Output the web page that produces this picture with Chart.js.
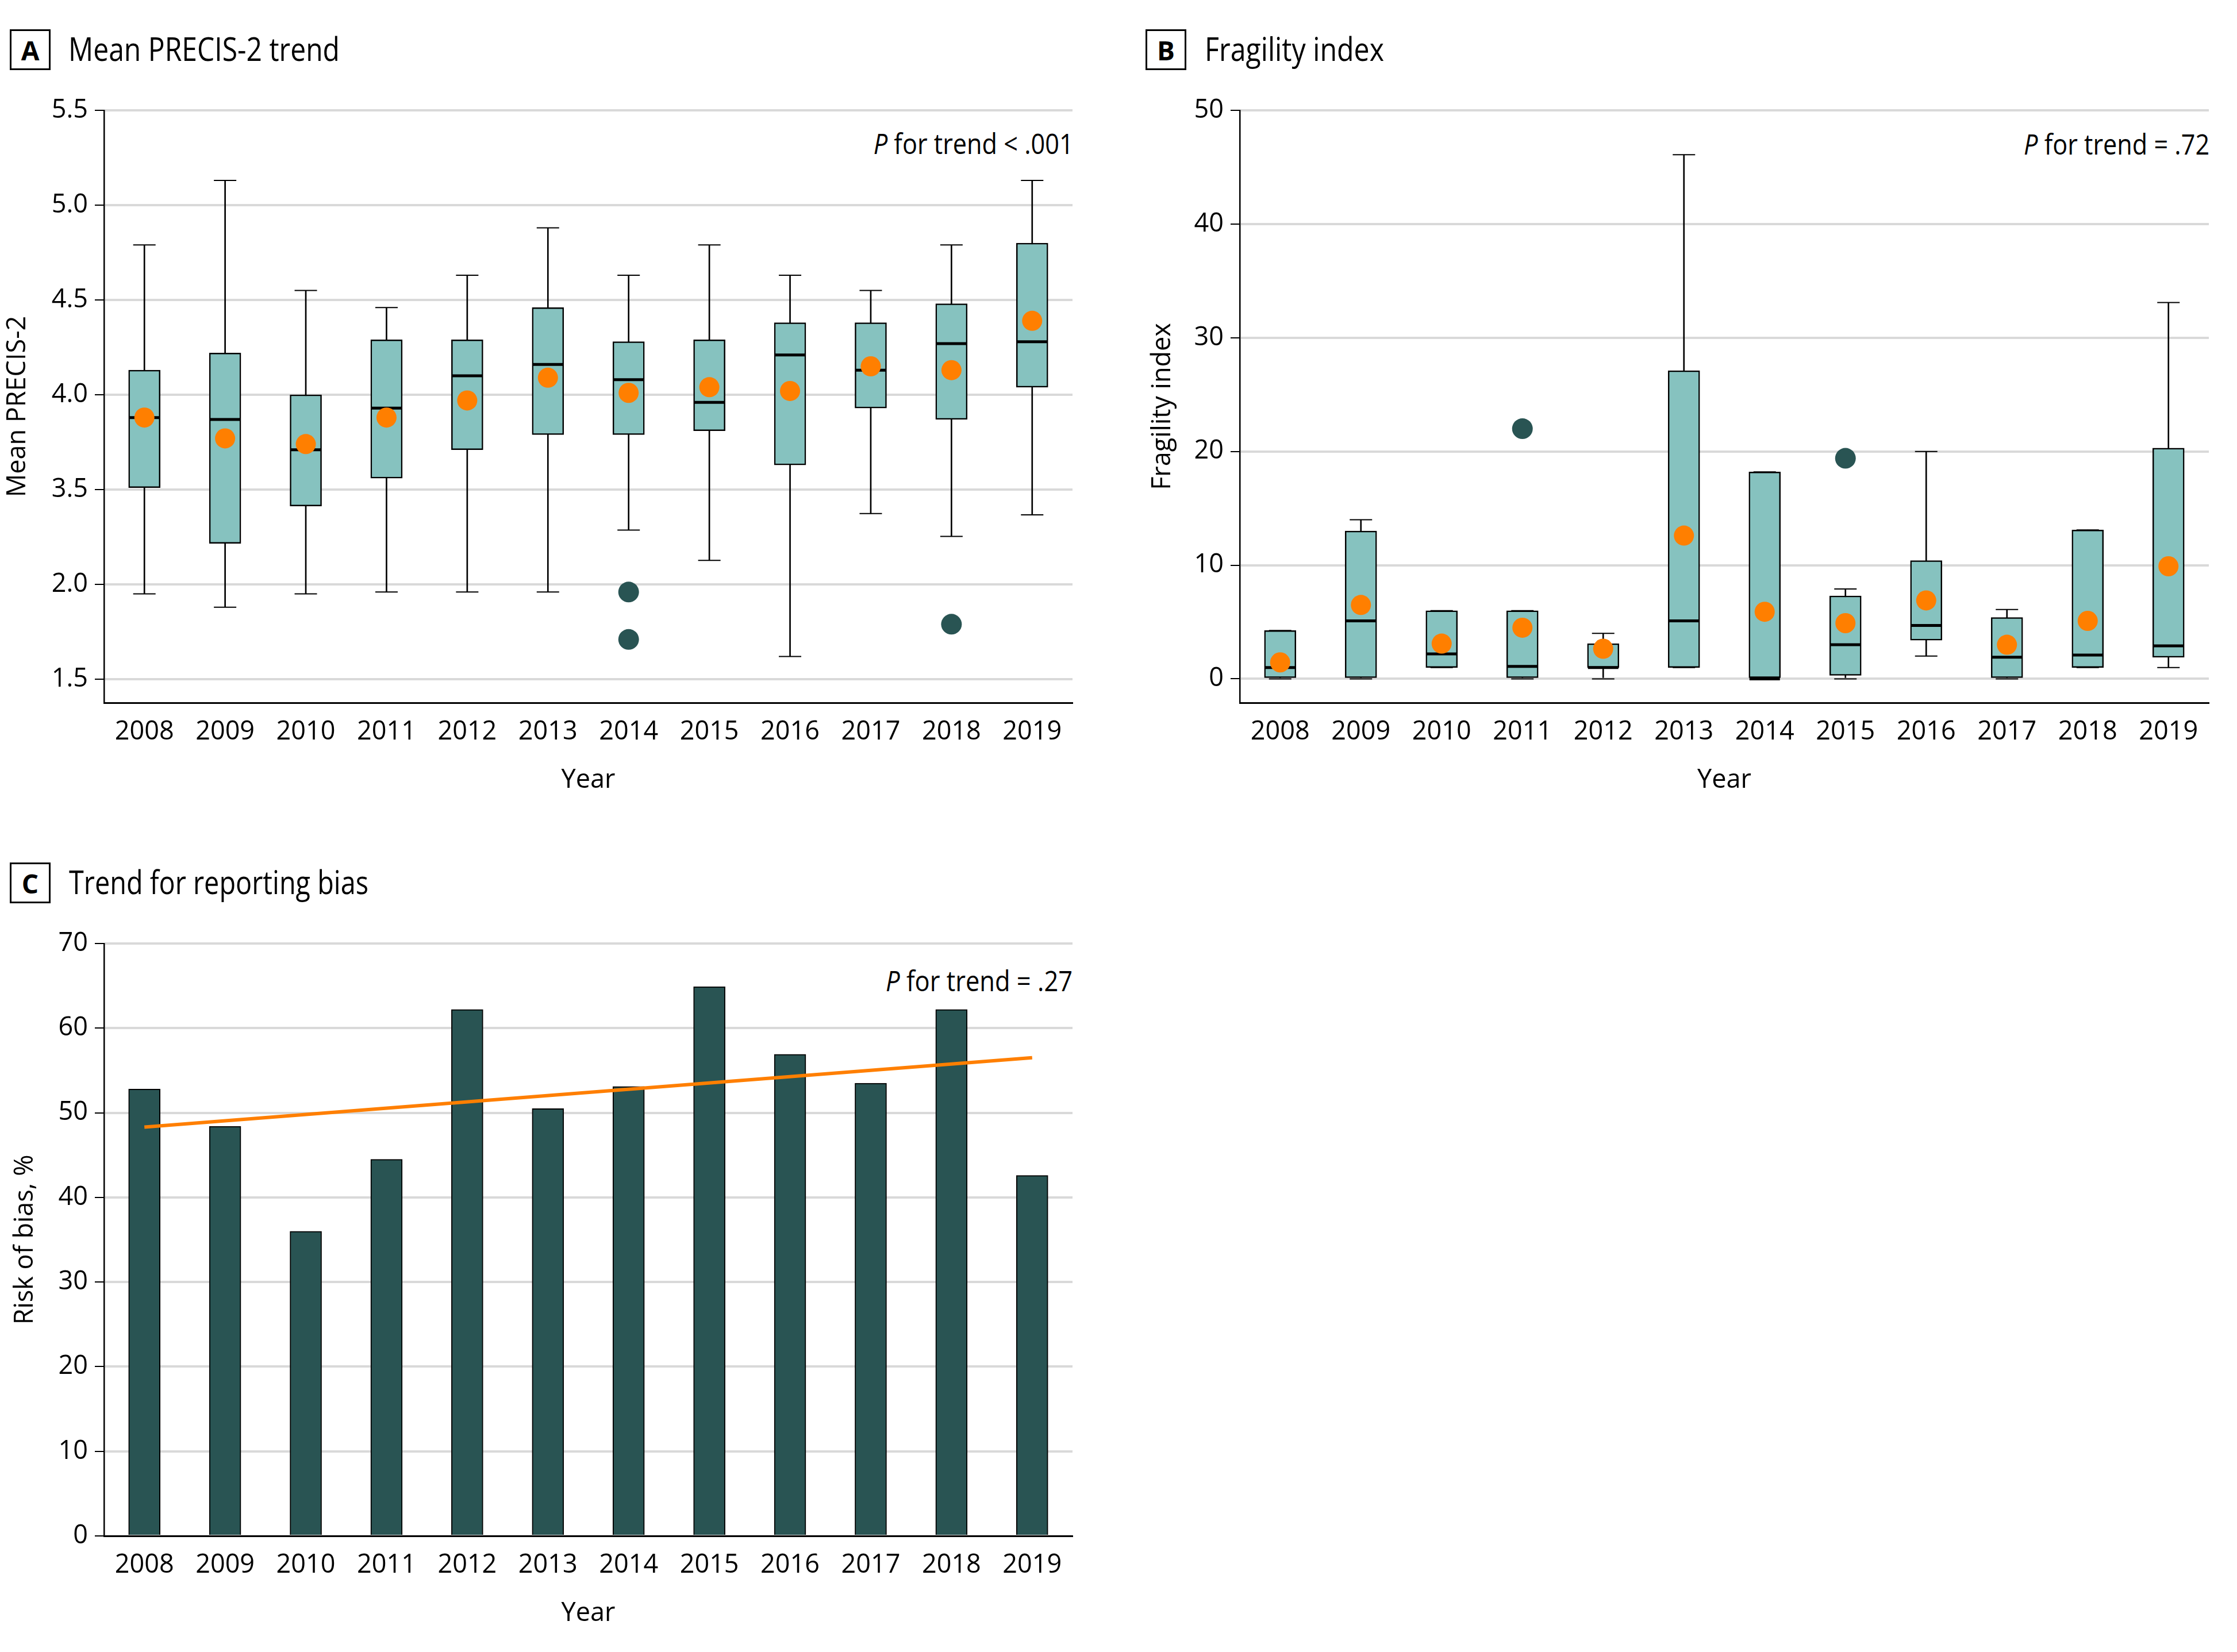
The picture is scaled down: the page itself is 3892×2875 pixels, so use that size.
<!DOCTYPE html>
<html>
<head>
<meta charset="utf-8">
<script src="https://cdn.jsdelivr.net/npm/chart.js@4.4.1/dist/chart.umd.min.js"></script>
<style>
html,body{margin:0;padding:0;background:#fff;}
body{width:3892px;height:2875px;position:relative;overflow:hidden;font-family:'Open Sans','Liberation Sans',sans-serif;color:#000;}
canvas{position:absolute;}
.plabel{position:absolute;width:71px;height:71px;box-sizing:border-box;border:3px solid #000;font-weight:bold;font-size:46px;display:flex;align-items:center;justify-content:center;}
.ptitle{position:absolute;font-size:56px;line-height:56px;white-space:nowrap;transform-origin:left center;}
.ptrend{position:absolute;font-size:50px;line-height:50px;white-space:nowrap;text-align:right;transform-origin:right center;}
</style>
</head>
<body>
<div class="plabel" style="left:17px;top:51px;">A</div>
<div class="ptitle" data-fit="472" style="left:119px;top:56px;">Mean PRECIS-2 trend</div>
<div class="ptrend" data-fit="348" style="right:2024px;top:224px;"><i>P</i> for trend &lt; .001</div>

<div class="plabel" style="left:1993px;top:51px;">B</div>
<div class="ptitle" data-fit="312" style="left:2096px;top:56px;">Fragility index</div>
<div class="ptrend" data-fit="323" style="right:48px;top:225px;"><i>P</i> for trend = .72</div>

<div class="plabel" style="left:17px;top:1501px;">C</div>
<div class="ptitle" data-fit="521" style="left:120px;top:1506px;">Trend for reporting bias</div>
<div class="ptrend" data-fit="325" style="right:2026px;top:1681px;"><i>P</i> for trend = .27</div>

<canvas id="chartA" width="1950" height="1425" style="left:0;top:0;"></canvas>
<canvas id="chartB" width="1916" height="1425" style="left:1976px;top:0;"></canvas>
<canvas id="chartC" width="1950" height="1425" style="left:0;top:1450px;"></canvas>

<script>
// ---------- Categories ----------
const years = ['2008','2009','2010','2011','2012','2013','2014','2015','2016','2017','2018','2019'];

// ---------- Panel A: Mean PRECIS-2 (values as read on the labelled axis) ----------
const precisMin    = [1.95, 1.88, 1.95, 1.96, 1.96, 1.96, 2.86, 2.38, 1.62, 3.12, 2.76, 3.10];
const precisQ1     = [3.51, 2.65, 3.24, 3.56, 3.71, 3.79, 3.79, 3.81, 3.63, 3.93, 3.87, 4.04];
const precisMedian = [3.88, 3.87, 3.71, 3.93, 4.10, 4.16, 4.08, 3.96, 4.21, 4.13, 4.27, 4.28];
const precisQ3     = [4.13, 4.22, 4.00, 4.29, 4.29, 4.46, 4.28, 4.29, 4.38, 4.38, 4.48, 4.80];
const precisMax    = [4.79, 5.13, 4.55, 4.46, 4.63, 4.88, 4.63, 4.79, 4.63, 4.55, 4.79, 5.13];
const precisMean   = [3.88, 3.77, 3.74, 3.88, 3.97, 4.09, 4.01, 4.04, 4.02, 4.15, 4.13, 4.39];
const precisOutlierYears = ['2014', '2014', '2018'];
const precisOutliers     = [1.96, 1.71, 1.79];
const precisTicks  = [1.5, 2.0, 3.5, 4.0, 4.5, 5.0, 5.5];
const precisRange  = [1.376, 5.5];

// ---------- Panel B: Fragility index ----------
const fragMin    = [0, 0, 1, 0, 0, 1, 0, 0, 2, 0, 1, 1];
const fragQ1     = [0, 0, 1, 0, 1, 1, 0, 0.3, 3.4, 0, 1, 1.9];
const fragMedian = [1, 5.1, 2.2, 1.1, 1, 5.1, 0, 3, 4.7, 1.9, 2.1, 2.9];
const fragQ3     = [4.25, 13, 6, 6, 3.1, 27.1, 18.2, 7.3, 10.4, 5.4, 13.1, 20.3];
const fragMax    = [4.25, 14, 6, 6, 4, 46.1, 18.2, 7.9, 20, 6.1, 13.1, 33.1];
const fragMean   = [1.45, 6.5, 3.1, 4.5, 2.65, 12.6, 5.9, 4.9, 6.9, 3.0, 5.1, 9.9];
const fragOutlierYears = ['2011', '2015'];
const fragOutliers     = [22, 19.4];
const fragTicks  = [0, 10, 20, 30, 40, 50];
const fragRange  = [-2.1, 50];

// ---------- Panel C: Risk of reporting bias ----------
const biasRisk = [52.8, 48.4, 36.0, 44.5, 62.2, 50.5, 53.1, 64.9, 56.9, 53.5, 62.2, 42.6];
const biasTrendYears = ['2008', '2019'];
const biasTrend = [48.3, 56.5];
const biasTicks = [0, 10, 20, 30, 40, 50, 60, 70];
const biasRange = [0, 70];

// ---------- Styles ----------
const BOX = '#86c2bf';
const DARK = '#295453';
const ORANGE = '#ff7f00';
const GRID = '#d9d9d9';
const FAMILY = "'Open Sans', 'Liberation Sans', sans-serif";
const tickFont = {family: FAMILY, size: 45};
const titleFont = {family: FAMILY, size: 45};

// fit heading widths (keeps text as real text)
document.querySelectorAll('[data-fit]').forEach(el => {
  const w = el.getBoundingClientRect().width;
  el.style.transform = 'scaleX(' + (Number(el.dataset.fit) / w) + ')';
});

// Axis A has a break: labels 3.5 -> 2.0 share one step
function precisPos(v) {
  if (v >= 3.5) return v;
  if (v >= 2.0) return 3.0 + (v - 2.0) / 3;
  return 2.5 + (v - 1.5);
}

function yScale(ticksArr, range, map, labelFmt, titleText, titlePad) {
  return {
    min: map(range[0]), max: map(range[1]),
    afterFit: s => { s.width = 181; },
    afterBuildTicks: s => { s.ticks = ticksArr.map(v => ({value: map(v)})); },
    ticks: {font: tickFont, color: '#000', padding: 12,
            callback: (val, i) => labelFmt(ticksArr[i])},
    grid: {color: GRID, lineWidth: 4, tickColor: '#000', tickLength: 16, tickWidth: 2},
    border: {color: '#000', width: 2.5},
    title: {display: true, text: titleText, font: titleFont, color: '#000', padding: {top: titlePad, bottom: 0}}
  };
}

function xScale() {
  return {
    afterFit: s => { s.height = 202; },
    grid: {display: true, drawOnChartArea: false, drawTicks: false},
    border: {display: true, color: '#000', width: 3},
    ticks: {font: tickFont, color: '#000', padding: 24, maxRotation: 0, autoSkip: false},
    title: {display: true, text: 'Year', font: titleFont, color: '#000', padding: {top: 0, bottom: 40}}
  };
}

const commonOpts = {
  responsive: false, animation: false, events: [],
  plugins: {legend: {display: false}, tooltip: {enabled: false}}
};

function boxChart(id, d, right) {
  const T = d.map;
  const datasets = [
    {type: 'bar', label: 'Whisker', data: d.min.map((m, i) => [T(m), T(d.max[i])]),
     backgroundColor: '#000', borderWidth: 0, barThickness: 2, grouped: false, order: 6},
    {type: 'bar', label: 'Interquartile range', data: d.q1.map((q, i) => [T(q), T(d.q3[i])]),
     backgroundColor: BOX, borderColor: '#000', borderWidth: 2.5, borderSkipped: false,
     barThickness: 55, grouped: false, order: 5},
    {type: 'line', label: 'Maximum', data: d.max.map(T), showLine: false, pointStyle: 'line',
     pointRadius: 19.5, borderColor: '#000', pointBorderColor: '#000', pointBorderWidth: 2, order: 4},
    {type: 'line', label: 'Minimum', data: d.min.map(T), showLine: false, pointStyle: 'line',
     pointRadius: 19.5, borderColor: '#000', pointBorderColor: '#000', pointBorderWidth: 2, order: 4},
    {type: 'line', label: 'Median', data: d.med.map(T), showLine: false, pointStyle: 'line',
     pointRadius: 26.5, borderColor: '#000', pointBorderColor: '#000', pointBorderWidth: 5, order: 3},
    {type: 'line', label: 'Mean', data: d.mean.map(T), showLine: false, pointStyle: 'circle',
     pointRadius: 17.5, pointBackgroundColor: ORANGE, pointBorderWidth: 0, borderColor: ORANGE, order: 2},
    {type: 'line', label: 'Outlier', data: d.outYears.map((y, i) => ({x: y, y: T(d.outVals[i])})),
     showLine: false, pointStyle: 'circle', pointRadius: 18, pointBackgroundColor: DARK,
     pointBorderWidth: 0, borderColor: DARK, order: 1}
  ];
  return new Chart(document.getElementById(id), {
    data: {labels: years, datasets},
    options: Object.assign({}, commonOpts, {
      layout: {padding: {top: 192, right: right, left: 0, bottom: 0}},
      scales: {x: xScale(), y: d.yScale}
    })
  });
}

boxChart('chartA', {
  map: precisPos, min: precisMin, q1: precisQ1, med: precisMedian, q3: precisQ3, max: precisMax,
  mean: precisMean, outYears: precisOutlierYears, outVals: precisOutliers,
  yScale: yScale(precisTicks, precisRange, precisPos, v => v.toFixed(1), 'Mean PRECIS-2', 4)
}, 84);

boxChart('chartB', {
  map: v => v, min: fragMin, q1: fragQ1, med: fragMedian, q3: fragQ3, max: fragMax,
  mean: fragMean, outYears: fragOutlierYears, outVals: fragOutliers,
  yScale: yScale(fragTicks, fragRange, v => v, v => String(v), 'Fragility index', 20)
}, 49);

new Chart(document.getElementById('chartC'), {
  data: {
    labels: years,
    datasets: [
      {type: 'line', label: 'Trend', data: biasTrendYears.map((y, i) => ({x: y, y: biasTrend[i]})),
       borderColor: ORANGE, borderWidth: 6, pointRadius: 0, order: 1},
      {type: 'bar', label: 'Risk of bias, %', data: biasRisk, backgroundColor: DARK,
       borderColor: '#000', borderWidth: 2, barThickness: 55, order: 2}
    ]
  },
  options: Object.assign({}, commonOpts, {
    layout: {padding: {top: 192, right: 84, left: 0, bottom: 0}},
    scales: {x: xScale(), y: yScale(biasTicks, biasRange, v => v, v => String(v), 'Risk of bias, %', 17)}
  })
});
</script>
</body>
</html>
